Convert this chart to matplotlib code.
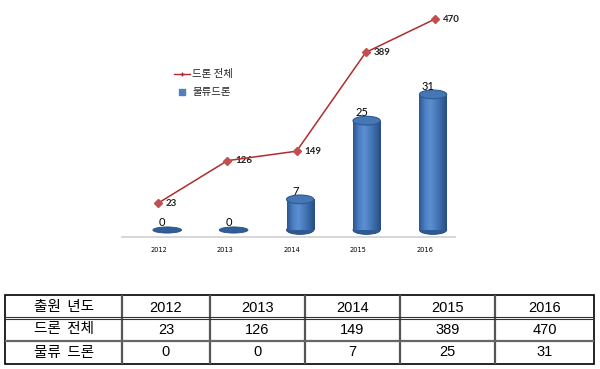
import matplotlib
matplotlib.use('Agg')
import matplotlib.pyplot as plt
import numpy as np
from matplotlib.patches import Ellipse, Rectangle
from matplotlib.colors import LinearSegmentedColormap
from matplotlib.lines import Line2D

plt.rcParams['font.family'] = ['Noto Sans CJK KR', 'DejaVu Sans']

years = ['2012', '2013', '2014', '2015', '2016']
total = [23, 126, 149, 389, 470]      # 드론 전체
logistics = [0, 0, 7, 25, 31]         # 물류드론
row_names = ['출원  년도', '드론  전체', '물류  드론']

W, H = 600, 369
fig = plt.figure(figsize=(W / 100, H / 100), dpi=100)


def px_axes(x0, y0, x1, y1):
    # axes from pixel box (top-left origin)
    return fig.add_axes([x0 / W, 1 - y1 / H, (x1 - x0) / W, (y1 - y0) / H])


# ---- chart ---------------------------------------------------------
axb = px_axes(122, 10, 455, 237)
axl = px_axes(122, 10, 455, 237)
axl.patch.set_alpha(0)

blue_cm = LinearSegmentedColormap.from_list(
    'cyl', ['#2b5790', '#4a7ec0', '#5d90d0', '#4a7dbd', '#3866a3', '#264d82'])
grad = np.linspace(0, 1, 64).reshape(1, -1)

bw = 0.41     # bar width (category units)
eh = 2.0      # ellipse height (value units)
x = np.arange(len(years))

for xi, v in zip(x, logistics):
    if v == 0:
        axb.add_patch(Ellipse((xi, 0), bw * 1.05, eh * 0.7,
                              facecolor='#2f5e99', edgecolor='#27507f', lw=0.6, zorder=3))
    else:
        axb.add_patch(Ellipse((xi, 0), bw, eh, facecolor='#2c5a94',
                              edgecolor='#23477a', lw=0.6, zorder=2))
        body = Rectangle((xi - bw / 2, 0), bw, v, facecolor='none', edgecolor='none')
        axb.add_patch(body)
        im = axb.imshow(grad, cmap=blue_cm, aspect='auto', zorder=3,
                        extent=[xi - bw / 2, xi + bw / 2, 0, v])
        im.set_clip_path(body)
        axb.add_patch(Ellipse((xi, v), bw, eh, facecolor='#4676b4',
                              edgecolor='#2c5a94', lw=0.8, zorder=4))
    axb.annotate(str(v), (xi, v + eh / 2), xytext=(-3.5, -1.5),
                 textcoords='offset points', ha='center', va='bottom',
                 fontsize=8, family='Lato', color='black', zorder=5)

axb.set_xlim(-0.68, 4.33)
axb.set_ylim(-1.6, 50.3)
axb.set_xticks(x)
axb.set_xticklabels(years, fontsize=4.8, family='DejaVu Sans', ha='right')
axb.tick_params(axis='x', length=0, pad=7)
axb.set_yticks([])
for s in ['top', 'left', 'right']:
    axb.spines[s].set_visible(False)
axb.spines['bottom'].set_color('#d0d0d0')
axb.spines['bottom'].set_linewidth(1.2)

axl.plot(x, total, color='#b02c2c', lw=1.1, marker='D', markersize=4.5,
         markerfacecolor='#c0504d', markeredgecolor='#c0504d', zorder=6)
for xi, v in zip(x, total):
    axl.annotate(str(v), (xi, v), xytext=(5.5, 0), textcoords='offset points',
                 ha='left', va='center', fontsize=7, family='Lato',
                 fontweight='bold', color='#222222')
axl.set_xlim(-0.524, 4.29)
axl.set_ylim(-59.5, 492)
axl.axis('off')

handles = [Line2D([], [], color='#b02c2c', lw=1.0, marker='+', markersize=3,
                  markeredgecolor='#b02c2c'),
           Line2D([], [], color='none', marker='s', markersize=4,
                  markerfacecolor='#4f81bd', markeredgecolor='#4f81bd')]
fig.legend(handles, ['드론 전체', '물류드론'], loc='upper left',
           bbox_to_anchor=(165 / W, 1 - 60 / H), frameon=False, fontsize=7.5,
           handlelength=1.5, handletextpad=0.2, labelspacing=0.75,
           labelcolor='#222222')

# ---- table ---------------------------------------------------------
axt = px_axes(5, 295, 594, 364)
col_edges = [5, 122, 210, 305, 400, 495, 594]
row_edges = [295, 318, 341, 364]
axt.set_xlim(5, 594)
axt.set_ylim(364, 295)
axt.axis('off')

for cx in col_edges[1:-1]:
    axt.plot([cx, cx], [295, 364], color='#555555', lw=1.6, solid_capstyle='butt')
axt.plot([5, 594], [317.0, 317.0], color='#333333', lw=0.8)
axt.plot([5, 594], [319.3, 319.3], color='#333333', lw=0.8)
axt.plot([5, 594], [341, 341], color='#666666', lw=1.6)
axt.add_patch(Rectangle((5, 295), 589, 69, fill=False, edgecolor='black',
                        lw=1.2, clip_on=False))

rows = [years, [str(v) for v in total], [str(v) for v in logistics]]
for r, (name, vals) in enumerate(zip(row_names, rows)):
    cy = (row_edges[r] + row_edges[r + 1]) / 2 + (1 if r == 0 else 0)
    axt.text((col_edges[0] + col_edges[1]) / 2, cy, name, ha='center',
             va='center', fontsize=10.5, color='black')
    for c, val in enumerate(vals):
        axt.text((col_edges[c + 1] + col_edges[c + 2]) / 2, cy, val,
                 ha='center', va='center', fontsize=10.5,
                 family='Liberation Sans', color='black')

fig.savefig('out.png', dpi=100)
